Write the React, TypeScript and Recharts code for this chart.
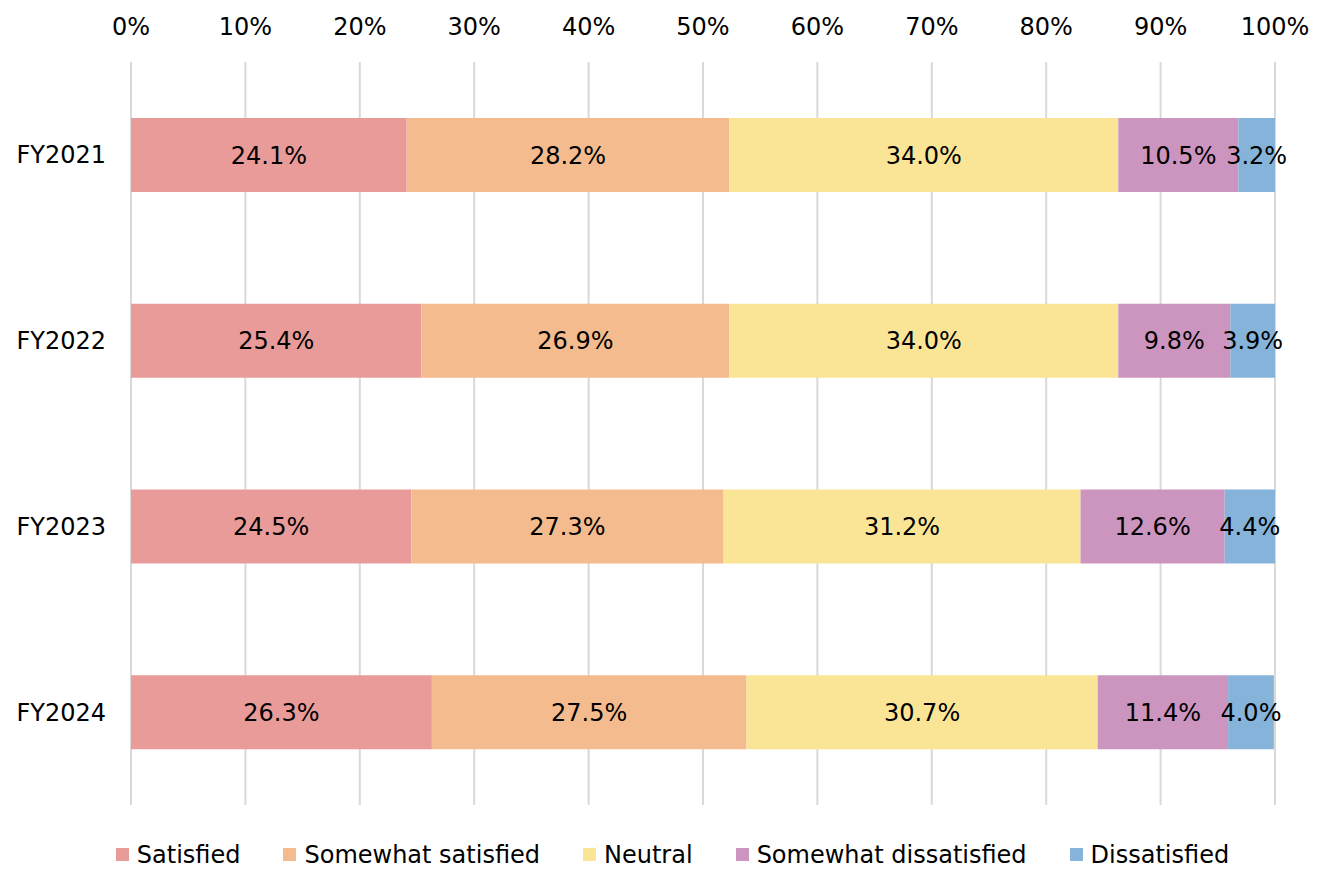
import React from "react";
import {
  Bar,
  BarChart,
  CartesianGrid,
  LabelList,
  Legend,
  XAxis,
  YAxis,
} from "recharts";

const YEARS = ["FY2021", "FY2022", "FY2023", "FY2024"];
const SATISFIED = [24.1, 25.4, 24.5, 26.3];
const SOMEWHAT_SATISFIED = [28.2, 26.9, 27.3, 27.5];
const NEUTRAL = [34.0, 34.0, 31.2, 30.7];
const SOMEWHAT_DISSATISFIED = [10.5, 9.8, 12.6, 11.4];
const DISSATISFIED = [3.2, 3.9, 4.4, 4.0];
const X_TICKS = [0, 10, 20, 30, 40, 50, 60, 70, 80, 90, 100];

const SERIES = [
  { key: "satisfied", name: "Satisfied", color: "#E99B9A" },
  { key: "somewhatSatisfied", name: "Somewhat satisfied", color: "#F4BC8E" },
  { key: "neutral", name: "Neutral", color: "#FAE597" },
  { key: "somewhatDissatisfied", name: "Somewhat dissatisfied", color: "#CC95BF" },
  { key: "dissatisfied", name: "Dissatisfied", color: "#86B3D9" },
];

const data = YEARS.map((name, i) => ({
  name,
  satisfied: SATISFIED[i],
  somewhatSatisfied: SOMEWHAT_SATISFIED[i],
  neutral: NEUTRAL[i],
  somewhatDissatisfied: SOMEWHAT_DISSATISFIED[i],
  dissatisfied: DISSATISFIED[i],
}));

const FONT = "'DejaVu Sans', Verdana, sans-serif";

function LegendContent() {
  return (
    <div
      style={{
        height: 83,
        boxSizing: "border-box",
        paddingTop: 16,
        paddingLeft: 70,
        display: "flex",
        justifyContent: "center",
        alignItems: "center",
        gap: 43,
        fontFamily: FONT,
        fontSize: 24,
        color: "#000",
      }}
    >
      {SERIES.map((s) => (
        <div key={s.key} style={{ display: "flex", alignItems: "center" }}>
          <span
            style={{
              display: "inline-block",
              width: 13,
              height: 13,
              background: s.color,
              marginRight: 8,
            }}
          />
          <span>{s.name}</span>
        </div>
      ))}
    </div>
  );
}

export default function App() {
  return (
    <div style={{ position: "fixed", left: 0, top: 0, background: "#fff" }}>
      <BarChart
        width={1334}
        height={888}
        data={data}
        layout="vertical"
        margin={{ top: 0, right: 59, left: 0, bottom: 0 }}
        barSize={74}
      >
        <CartesianGrid horizontal={false} stroke="#D9D9D9" strokeWidth={2} />
        <XAxis
          type="number"
          orientation="top"
          domain={[0, 100]}
          ticks={X_TICKS}
          tickFormatter={(v) => `${v}%`}
          axisLine={false}
          tickLine={false}
          height={62}
          tickMargin={21}
          interval={0}
          tick={{ fontSize: 24, fill: "#000", fontFamily: FONT }}
        />
        <YAxis
          type="category"
          dataKey="name"
          width={131}
          axisLine={false}
          tickLine={false}
          tickMargin={19}
          tick={{ fontSize: 24, fill: "#000", fontFamily: FONT }}
        />
        <Legend verticalAlign="bottom" content={<LegendContent />} />
        {SERIES.map((s) => (
          <Bar
            key={s.key}
            dataKey={s.key}
            name={s.name}
            stackId="a"
            fill={s.color}
            isAnimationActive={false}
          >
            <LabelList
              dataKey={s.key}
              position="center"
              formatter={(v: number) => `${v.toFixed(1)}%`}
              style={{ fontSize: 24, fill: "#000", fontFamily: FONT }}
            />
          </Bar>
        ))}
      </BarChart>
    </div>
  );
}
